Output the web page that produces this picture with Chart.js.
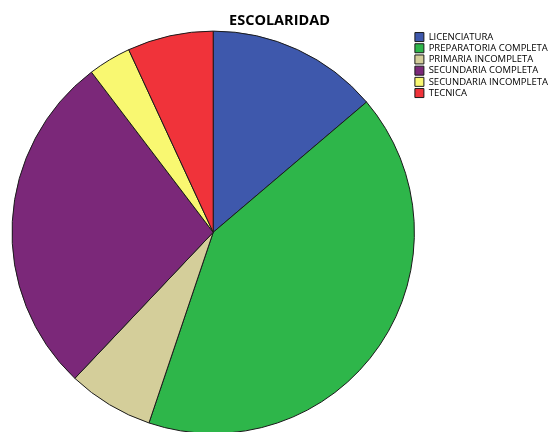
<!DOCTYPE html>
<html>
<head>
<meta charset="utf-8">
<script src="https://cdn.jsdelivr.net/npm/chart.js@4/dist/chart.umd.min.js"></script>
<style>
  html, body { margin: 0; padding: 0; background: #fff; overflow: hidden; }
  #wrap { position: relative; width: 550px; height: 434px; }
</style>
</head>
<body>
<div id="wrap"><canvas id="chartEsc"></canvas></div>
<script>
// escolaridad de los encuestados (frecuencias)
var categorias = ['LICENCIATURA', 'PREPARATORIA COMPLETA', 'PRIMARIA INCOMPLETA',
                  'SECUNDARIA COMPLETA', 'SECUNDARIA INCOMPLETA', 'TECNICA'];
var frecuencias = [4, 12, 2, 8, 1, 2];
var colores = ['#3E58AC', '#2EB64A', '#D4CE9A', '#7B2879', '#F9F871', '#F0333A'];

// la leyenda va arriba a la derecha pegada al pastel, sin quitarle ancho
var leyendaPegada = {
    id: 'leyendaPegada',
    afterLayout: function (chart) {
        var area = chart.chartArea;
        area.right = area.left + (area.bottom - area.top);
        area.width = area.right - area.left;

        var leg = chart.legend;
        var pad = chart.options.plugins.legend.labels.padding;
        leg.left = area.right - pad;
        leg.right = leg.left + leg.width;
        leg.top = area.top;
        leg.bottom = area.bottom;
        leg.height = leg.bottom - leg.top;
    }
};

var ctx = document.getElementById('chartEsc');

var pieChart = new Chart(ctx, {
    type: 'pie',
    data: {
        labels: categorias,
        datasets: [
            {
                data: frecuencias,
                backgroundColor: colores,
                borderColor: '#1a1a1a',
                borderWidth: 1
            }
        ]
    },
    options: {
        responsive: true,
        maintainAspectRatio: false,
        animation: false,
        layout: {
            padding: { left: 11.5, right: 2.5, top: 0, bottom: 0 }
        },
        plugins: {
            title: {
                display: true,
                text: 'ESCOLARIDAD',
                color: '#000',
                font: { family: 'Open Sans', size: 14.5, weight: 'bold' },
                padding: { top: 12, bottom: 1.2 }
            },
            legend: {
                position: 'right',
                align: 'start',
                fullSize: false,
                labels: {
                    color: '#000',
                    font: { family: 'Open Sans', size: 9.5 },
                    boxWidth: 9,
                    boxHeight: 9,
                    padding: 1.7
                }
            },
            tooltip: { enabled: false }
        }
    },
    plugins: [leyendaPegada]
});
</script>
</body>
</html>
